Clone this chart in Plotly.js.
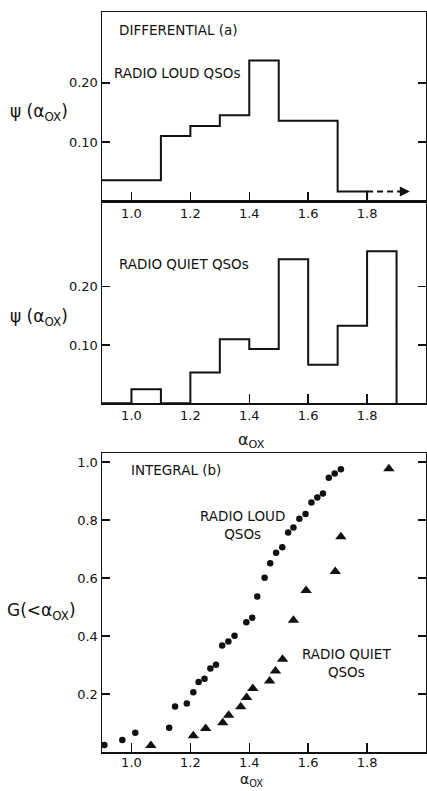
<!DOCTYPE html>
<html>
<head>
<meta charset="utf-8">
<script src="https://cdn.plot.ly/plotly-3.0.1.min.js"></script>
<style>html,body{margin:0;padding:0;background:#fff;}#chart{width:427px;height:791px;}</style>
</head>
<body>
<div id="chart"></div>
<script>
// Differential distribution, radio loud QSOs (bin edges and psi per bin)
const loudBinEdges = [0.9, 1.0, 1.1, 1.2, 1.3, 1.4, 1.5, 1.6, 1.7, 1.8];
const loudPsi      = [0.035, 0.035, 0.110, 0.127, 0.145, 0.238, 0.136, 0.136, 0.016];
// Differential distribution, radio quiet QSOs
const quietBinEdges = [0.9, 1.0, 1.1, 1.2, 1.3, 1.4, 1.5, 1.6, 1.7, 1.8, 1.9];
const quietPsi      = [0.0, 0.024, 0.0, 0.053, 0.110, 0.093, 0.247, 0.066, 0.133, 0.261];
// Dashed arrow extension of the last radio loud bin
const loudArrowX = [1.8, 1.925];
// Integral distribution, radio loud QSOs (circles)
const loudAox = [0.908, 0.969, 1.013, 1.128, 1.148, 1.188, 1.210, 1.228, 1.248, 1.268, 1.287, 1.308, 1.329, 1.350, 1.390, 1.410,
                 1.427, 1.452, 1.471, 1.491, 1.512, 1.532, 1.550, 1.570, 1.591, 1.611, 1.631, 1.650, 1.670, 1.690, 1.711];
const loudG   = [0.024, 0.041, 0.066, 0.084, 0.157, 0.167, 0.206, 0.241, 0.253, 0.288, 0.301, 0.367, 0.381, 0.401, 0.447, 0.463,
                 0.536, 0.601, 0.651, 0.687, 0.706, 0.757, 0.774, 0.804, 0.821, 0.860, 0.878, 0.891, 0.946, 0.960, 0.975];
// Integral distribution, radio quiet QSOs (triangles)
const quietAox = [1.066, 1.210, 1.252, 1.310, 1.330, 1.371, 1.391, 1.412, 1.469, 1.489, 1.513, 1.550, 1.593, 1.692, 1.711, 1.874];
const quietG   = [0.022, 0.056, 0.081, 0.101, 0.127, 0.156, 0.188, 0.219, 0.245, 0.279, 0.320, 0.454, 0.557, 0.622, 0.742, 0.977];
// Tick labels
const xTickVals = [1.0, 1.2, 1.4, 1.6, 1.8];
const xTickText = ['1.0', '1.2', '1.4', '1.6', '1.8'];
const psiTickVals = [0.10, 0.20];
const psiTickText = ['0.10', '0.20'];
const gTickVals = [0.2, 0.4, 0.6, 0.8, 1.0];
const gTickText = ['0.2', '0.4', '0.6', '0.8', '1.0'];

const FONT = 'DejaVu Sans, Arial, sans-serif';
const INK = '#111';
const LABEL_SIZE = 13.5;

function stepY(vals) { return vals.concat([0]); }

const traces = [
  { x: loudBinEdges, y: stepY(loudPsi), xaxis: 'x', yaxis: 'y', type: 'scatter', mode: 'lines',
    line: { shape: 'hv', color: INK, width: 2 }, name: 'Radio loud (differential)', showlegend: false, cliponaxis: false },
  { x: loudArrowX, y: [loudPsi[loudPsi.length - 1], loudPsi[loudPsi.length - 1]], xaxis: 'x', yaxis: 'y', type: 'scatter', mode: 'lines',
    line: { color: INK, width: 2, dash: '6px,4px' }, showlegend: false },
  { x: quietBinEdges, y: stepY(quietPsi), xaxis: 'x2', yaxis: 'y2', type: 'scatter', mode: 'lines',
    line: { shape: 'hv', color: INK, width: 2 }, name: 'Radio quiet (differential)', showlegend: false, cliponaxis: false },
  { x: loudAox, y: loudG, xaxis: 'x3', yaxis: 'y3', type: 'scatter', mode: 'markers',
    marker: { symbol: 'circle', size: 6.5, color: INK }, name: 'Radio loud QSOs', showlegend: false, cliponaxis: false },
  { x: quietAox, y: quietG, xaxis: 'x3', yaxis: 'y3', type: 'scatter', mode: 'markers',
    marker: { symbol: 'triangle-up', size: 10, color: INK }, name: 'Radio quiet QSOs', showlegend: false, cliponaxis: false }
];

const xDom = [102 / 427, 426 / 427];
function px2y(py) { return 1 - py / 791; }

function xAxis(anchor, domain, standoff) {
  return {
    domain: domain, anchor: anchor, range: [0.9, 2.0], showgrid: false, zeroline: false,
    showline: true, linecolor: INK, linewidth: 1.5, mirror: true,
    ticks: 'inside', ticklen: 9, tickwidth: 1.5, tickcolor: INK,
    tickvals: xTickVals, ticktext: xTickText, ticklabelstandoff: standoff || 0,
    tickfont: { family: FONT, size: 13, color: INK }
  };
}
function yAxis(anchor, domain, range, tv, tt) {
  return {
    domain: domain, anchor: anchor, range: range, showgrid: false, zeroline: false,
    showline: true, linecolor: INK, linewidth: 1.5, mirror: 'ticks',
    ticks: 'inside', ticklen: 8, tickwidth: 1.5, tickcolor: INK,
    tickvals: tv, ticktext: tt,
    tickfont: { family: FONT, size: 13, color: INK }
  };
}

function label(text, px, py, anchor, size, yanchor) {
  return { xref: 'paper', yref: 'paper', x: px / 427, y: px2y(py), xanchor: anchor, yanchor: yanchor || 'middle', showarrow: false,
           text: text, font: { family: FONT, size: size, color: INK } };
}

const layout = {
  width: 427, height: 791,
  margin: { l: 0, r: 0, t: 0, b: 0 },
  paper_bgcolor: '#fff', plot_bgcolor: '#fff',
  showlegend: false,
  font: { family: FONT, color: INK },
  xaxis: xAxis('y', xDom),
  yaxis: yAxis('x', [px2y(201), px2y(12)], [0, 0.32], psiTickVals, psiTickText),
  xaxis2: xAxis('y2', xDom),
  yaxis2: yAxis('x2', [px2y(403.3), px2y(201)], [0, 0.347], psiTickVals, psiTickText),
  xaxis3: xAxis('y3', xDom, -2),
  yaxis3: yAxis('x3', [px2y(752), px2y(453.3)], [0, 1.03], gTickVals, gTickText),
  annotations: [
    label('DIFFERENTIAL (a)', 117, 30, 'left', LABEL_SIZE),
    label('RADIO LOUD QSOs', 112, 73, 'left', LABEL_SIZE),
    label('RADIO QUIET QSOs', 117, 264, 'left', LABEL_SIZE),
    label('INTEGRAL (b)', 129, 470, 'left', LABEL_SIZE),
    label('RADIO LOUD<br>QSOs', 242.5, 525, 'center', LABEL_SIZE),
    label('RADIO QUIET<br>QSOs', 346, 662.5, 'center', LABEL_SIZE),
    label('ψ (α<sub>OX</sub>)', 39, 113, 'center', 17),
    label('ψ (α<sub>OX</sub>)', 39, 317, 'center', 17),
    label('G(&lt;α<sub>OX</sub>)', 41, 611, 'center', 17),
    label('α<sub>OX</sub>', 251.5, 440, 'center', 16),
    label('α<sub>OX</sub>', 251, 791, 'center', 14, 'bottom'),
    { xref: 'x', yref: 'y', x: 1.945, y: loudPsi[loudPsi.length - 1], ax: 1.92, ay: loudPsi[loudPsi.length - 1],
      axref: 'x', ayref: 'y', showarrow: true, arrowhead: 2, arrowsize: 1, arrowwidth: 2, arrowcolor: INK, text: ' ' }
  ]
};

Plotly.newPlot('chart', traces, layout, { staticPlot: true, displayModeBar: false });
</script>
</body>
</html>
